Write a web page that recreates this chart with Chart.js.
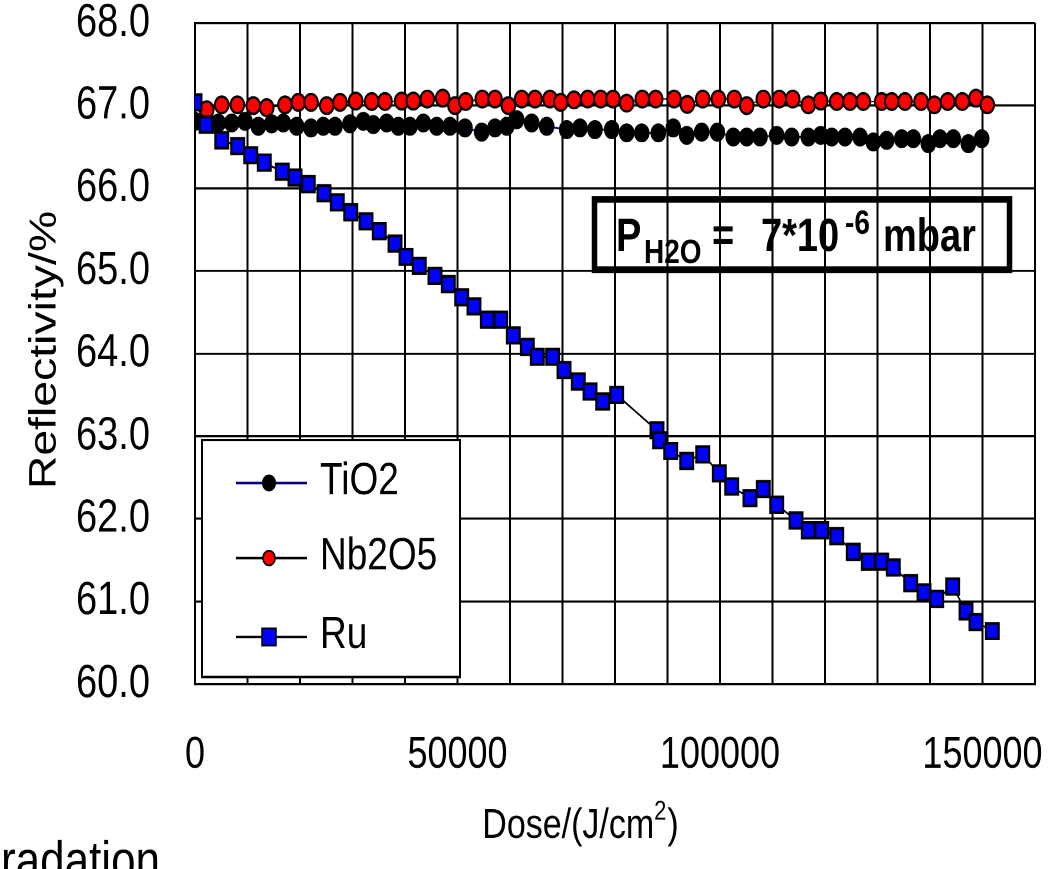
<!DOCTYPE html>
<html>
<head>
<meta charset="utf-8">
<script src="https://cdn.jsdelivr.net/npm/chart.js@4"></script>
<style>
  html, body { margin: 0; padding: 0; background: #fff; overflow: hidden; }
  #wrap {
    position: absolute; left: 0; top: 0;
    width: 1054px; height: 712px;
    transform: scaleY(1.2205); transform-origin: 0 0;
  }
</style>
</head>
<body>
<div id="wrap"><canvas id="chart" width="1054" height="712"></canvas></div>
<script>
// the original picture is stretched vertically, so the chart is drawn at 712px high and scaled up
const SY = 869 / 712;
const FONT = '"Liberation Sans", Arial, sans-serif';

const doseTiO2 = [0, 1900, 4440, 6990, 9520, 12060, 14610, 16820, 19370, 22100,
  24440, 26670, 29520, 32060, 33960, 36510, 38720, 40950, 43490, 46040,
  48570, 51430, 54610, 57140, 59370, 61280, 64130, 66990, 70800, 73330,
  76190, 79370, 82230, 85090, 88250, 91100, 93660, 96510, 99490, 102530,
  105090, 107620, 110800, 113660, 116820, 119180, 121280, 123810, 126670, 129200,
  131750, 134610, 136820, 139680, 141900, 144440, 147300, 149850];
const reflTiO2 = [66.81, 66.81, 66.79, 66.79, 66.81, 66.75, 66.78, 66.79, 66.75, 66.73,
  66.75, 66.75, 66.78, 66.81, 66.77, 66.79, 66.75, 66.75, 66.79, 66.75,
  66.75, 66.73, 66.68, 66.73, 66.75, 66.83, 66.79, 66.75, 66.71, 66.73,
  66.71, 66.71, 66.67, 66.67, 66.67, 66.73, 66.64, 66.68, 66.68, 66.62,
  66.62, 66.62, 66.64, 66.62, 66.62, 66.64, 66.62, 66.62, 66.62, 66.56,
  66.58, 66.60, 66.60, 66.54, 66.60, 66.60, 66.54, 66.60];

const doseNb2O5 = [2230, 5090, 8060, 11100, 13660, 17140, 19680, 22100, 25090, 27620,
  30610, 33660, 36190, 39370, 41580, 44250, 47180, 49520, 51560, 54720,
  57140, 59680, 62230, 64760, 67620, 69660, 72190, 74800, 77280, 79620,
  82230, 85200, 87750, 91240, 93770, 96710, 99680, 102720, 105090, 108250,
  111300, 113850, 116820, 119180, 122230, 124760, 127300, 130800, 132710, 135240,
  138290, 140820, 143370, 146150, 148760, 150910];
const reflNb2O5 = [66.95, 67.01, 67.01, 67.00, 66.975, 67.01, 67.04, 67.04, 67.00, 67.04,
  67.055, 67.05, 67.05, 67.055, 67.055, 67.08, 67.09, 67.00, 67.05, 67.08,
  67.08, 67.00, 67.08, 67.08, 67.08, 67.04, 67.07, 67.08, 67.08, 67.08,
  67.03, 67.08, 67.08, 67.08, 67.015, 67.08, 67.08, 67.08, 67.00, 67.08,
  67.08, 67.08, 67.01, 67.055, 67.05, 67.05, 67.05, 67.05, 67.05, 67.05,
  67.05, 67.01, 67.05, 67.05, 67.09, 67.01];

const doseRu = [0, 2100, 5090, 8130, 10610, 13200, 16630, 19050, 21580, 24570,
  27100, 29660, 32570, 35100, 38100, 40190, 42720, 45710, 48250, 50800,
  53140, 55680, 58230, 60630, 63300, 65200, 68130, 70290, 73010, 75240,
  77660, 80320, 88000, 88500, 90610, 93660, 96710, 99870, 102230, 105710,
  108250, 110800, 114480, 116820, 119370, 122230, 125390, 128250, 130800, 133010,
  136320, 138860, 141280, 144320, 146860, 148760, 151870];
const reflRu = [67.04, 66.77, 66.58, 66.51, 66.40, 66.31, 66.20, 66.13, 66.05, 65.94,
  65.83, 65.71, 65.60, 65.48, 65.33, 65.17, 65.06, 64.94, 64.84, 64.68,
  64.57, 64.41, 64.41, 64.22, 64.08, 63.96, 63.96, 63.80, 63.66, 63.54,
  63.42, 63.50, 63.07, 62.95, 62.82, 62.70, 62.78, 62.55, 62.39, 62.25,
  62.36, 62.17, 61.98, 61.86, 61.86, 61.79, 61.60, 61.48, 61.48, 61.41,
  61.22, 61.11, 61.03, 61.18, 60.88, 60.75, 60.64];

const seriesNames = ['TiO2', 'Nb2O5', 'Ru'];
const xLabelTicks = [0, 50000, 100000, 150000];

function pts(xs, ys) {
  return xs.map((x, i) => ({ x: x, y: ys[i] }));
}

// legend, text box and axis titles
const overlay = {
  id: 'overlay',
  afterDraw(chart) {
    const ctx = chart.ctx;
    ctx.save();

    // legend box
    const ly = y => y / SY;
    ctx.fillStyle = '#fff';
    ctx.fillRect(202, ly(440), 258, ly(677) - ly(440));
    ctx.strokeStyle = '#000';
    ctx.lineWidth = 2;
    ctx.strokeRect(202, ly(440), 258, ly(677) - ly(440));

    const rows = [ly(483), ly(558), ly(637)];
    const lineCols = ['#000080', '#000', '#000'];
    rows.forEach((y, i) => {
      ctx.strokeStyle = lineCols[i];
      ctx.lineWidth = 2;
      ctx.beginPath();
      ctx.moveTo(236, y);
      ctx.lineTo(307, y);
      ctx.stroke();
      ctx.strokeStyle = '#000';
      ctx.lineWidth = 1.5;
      if (i === 0) {
        ctx.fillStyle = '#000';
        ctx.beginPath(); ctx.arc(269, y, 7, 0, Math.PI * 2); ctx.fill();
      } else if (i === 1) {
        ctx.fillStyle = '#f00';
        ctx.beginPath(); ctx.arc(269, y, 6, 0, Math.PI * 2); ctx.fill(); ctx.stroke();
      } else {
        ctx.fillStyle = '#00f';
        ctx.fillRect(262, y - 7, 14, 14);
        ctx.strokeRect(262, y - 7, 14, 14);
      }
      ctx.fillStyle = '#000';
      ctx.font = '37px ' + FONT;
      ctx.textAlign = 'left';
      ctx.textBaseline = 'middle';
      ctx.fillText(seriesNames[i], 320, y - 1);
    });

    // pressure box
    ctx.strokeStyle = '#000';
    ctx.lineWidth = 5.5;
    ctx.strokeRect(594.5, ly(196) + 2.75, 415, ly(273) - ly(196) - 5.5);
    ctx.fillStyle = '#000';
    ctx.textAlign = 'left';
    ctx.textBaseline = 'alphabetic';
    ctx.font = 'bold 38px ' + FONT;
    ctx.fillText('P', 616, ly(251));
    ctx.fillText('=', 712, ly(251));
    ctx.fillText('7*10', 761, ly(251));
    ctx.fillText('mbar', 883, ly(251));
    ctx.font = 'bold 28px ' + FONT;
    ctx.fillText('H2O', 644, ly(263));
    ctx.fillText('-6', 845, ly(234));

    // y title
    ctx.font = '38px ' + FONT;
    ctx.textAlign = 'center';
    ctx.textBaseline = 'middle';
    ctx.save();
    ctx.translate(45, ly(350));
    ctx.rotate(-Math.PI / 2);
    ctx.fillText('Reflectivity/%', 0, 0);
    ctx.restore();

    // x title with superscript
    ctx.textAlign = 'left';
    ctx.textBaseline = 'alphabetic';
    ctx.font = '34px ' + FONT;
    const a = 'Dose/(J/cm', b = '2', c = ')';
    const wa = ctx.measureText(a).width, wc = ctx.measureText(c).width;
    ctx.font = '22px ' + FONT;
    const wb = ctx.measureText(b).width;
    let x0 = 580 - (wa + wb + wc) / 2;
    const base = ly(838);
    ctx.font = '34px ' + FONT;
    ctx.fillText(a, x0, base);
    ctx.fillText(c, x0 + wa + wb + 1, base);
    ctx.font = '22px ' + FONT;
    ctx.fillText(b, x0 + wa, base - 15);

    // cut off caption at the bottom
    ctx.font = '44px ' + FONT;
    ctx.fillText('radation', 1, ly(878));

    ctx.restore();
  }
};

new Chart(document.getElementById('chart'), {
  type: 'scatter',
  data: {
    datasets: [
      {
        label: seriesNames[0],
        data: pts(doseTiO2, reflTiO2),
        showLine: true,
        borderColor: '#000080',
        borderWidth: 1.5,
        pointStyle: 'circle',
        pointRadius: 7.3,
        pointBackgroundColor: '#000',
        pointBorderColor: '#000',
        pointBorderWidth: 1,
        order: 3
      },
      {
        label: seriesNames[1],
        data: pts(doseNb2O5, reflNb2O5),
        showLine: true,
        borderColor: '#000',
        borderWidth: 1,
        pointStyle: 'circle',
        pointRadius: 6.8,
        pointBackgroundColor: '#ff0000',
        pointBorderColor: '#000',
        pointBorderWidth: 2,
        order: 2
      },
      {
        label: seriesNames[2],
        data: pts(doseRu, reflRu),
        showLine: true,
        borderColor: '#000',
        borderWidth: 1.5,
        pointStyle: 'rect',
        pointRadius: 9,
        pointBackgroundColor: '#0000ff',
        pointBorderColor: '#000',
        pointBorderWidth: 2.2,
        order: 1
      }
    ]
  },
  options: {
    responsive: false,
    animation: false,
    devicePixelRatio: 2,
    layout: { padding: { top: 23 / SY, right: 19, left: 0, bottom: 0 } },
    plugins: {
      legend: { display: false },
      tooltip: { enabled: false }
    },
    scales: {
      x: {
        type: 'linear',
        min: 0,
        max: 160000,
        afterFit(s) {
          s.height = 712 - 684 / SY;
          s.paddingLeft = 0;
          s.paddingRight = 0;
        },
        ticks: {
          stepSize: 10000,
          autoSkip: false,
          maxRotation: 0,
          padding: 37,
          color: '#000',
          font: { family: FONT, size: 36 },
          callback: v => xLabelTicks.includes(v) ? String(v) : ''
        },
        grid: { color: '#000', lineWidth: 2, drawTicks: false },
        border: { color: '#000', width: 2 }
      },
      y: {
        min: 60,
        max: 68,
        afterFit(s) {
          s.width = 195;
          s.paddingTop = 0;
          s.paddingBottom = 0;
        },
        ticks: {
          stepSize: 1,
          padding: 45,
          color: '#000',
          font: { family: FONT, size: 38, lineHeight: 1 },
          callback: v => v.toFixed(1)
        },
        grid: { color: '#000', lineWidth: 1.7, drawTicks: false },
        border: { color: '#000', width: 2 }
      }
    }
  },
  plugins: [overlay]
});
</script>
</body>
</html>
